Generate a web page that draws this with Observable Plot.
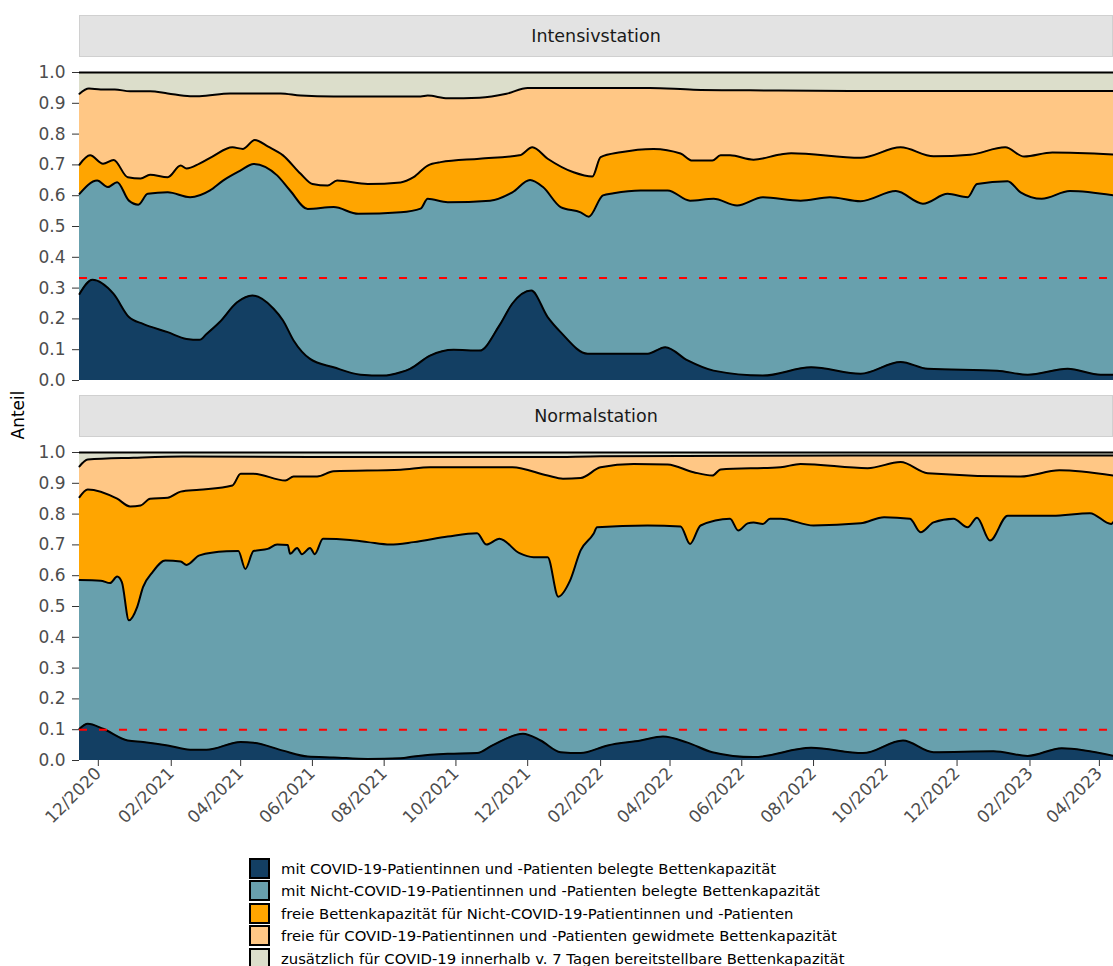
<!DOCTYPE html>
<html>
<head>
<meta charset="utf-8">
<script src="https://cdn.jsdelivr.net/npm/d3@7"></script>
<script src="https://cdn.jsdelivr.net/npm/@observablehq/plot@0.6"></script>
<style>
  body { margin: 0; background: #fff; width: 1113px; height: 966px; position: relative; overflow: hidden; font-family: "DejaVu Sans", sans-serif; }
  .strip { position: absolute; left: 79px; width: 1034px; height: 42px; background: #e3e3e3; border: 1px solid #d0d0d0; box-sizing: border-box; display: flex; align-items: center; justify-content: center; font-size: 17.5px; color: #1a1a1a; }
  .panel { position: absolute; left: 0; }
  #ylabel { position: absolute; left: 18px; top: 415px; transform: translate(-50%, -50%) rotate(-90deg); font-size: 17px; color: #000; white-space: nowrap; }
  #legend { position: absolute; left: 249px; top: 857px; }
  .row { display: flex; align-items: center; height: 22.5px; }
  .sw { width: 21px; height: 21px; border: 2px solid #000; box-sizing: border-box; margin-right: 11px; }
  .row span { font-size: 14.8px; color: #000; white-space: nowrap; }
  svg g[aria-label="y-axis tick label"], svg g[aria-label="x-axis tick label"] { fill: #4d4d4d; }
  svg g[aria-label="y-axis tick"], svg g[aria-label="x-axis tick"] { stroke: #333; }
</style>
</head>
<body>
<div class="strip" style="top:15px">Intensivstation</div>
<div id="p1" class="panel" style="top:62px"></div>
<div class="strip" style="top:395px">Normalstation</div>
<div id="p2" class="panel" style="top:442px"></div>
<div id="ylabel">Anteil</div>
<div id="legend"></div>
<script>
// ---- categories (bottom to top of the stack) ----
const categories = [
  "mit COVID-19-Patientinnen und -Patienten belegte Bettenkapazität",
  "mit Nicht-COVID-19-Patientinnen und -Patienten belegte Bettenkapazität",
  "freie Bettenkapazität für Nicht-COVID-19-Patientinnen und -Patienten",
  "freie für COVID-19-Patientinnen und -Patienten gewidmete Bettenkapazität",
  "zusätzlich für COVID-19 innerhalb v. 7 Tagen bereitstellbare Bettenkapazität"
];
const colors = ["#133f63", "#68a0ad", "#ffa500", "#ffc785", "#dcdecb"];
const panels = ["Intensivstation", "Normalstation"];

// ---- tick labels ----
const xTicks = ["2020-12-01","2021-02-01","2021-04-01","2021-06-01","2021-08-01","2021-10-01","2021-12-01",
  "2022-02-01","2022-04-01","2022-06-01","2022-08-01","2022-10-01","2022-12-01","2023-02-01","2023-04-01"];
const yTicks = [0, 0.1, 0.2, 0.3, 0.4, 0.5, 0.6, 0.7, 0.8, 0.9, 1.0];

// ---- reference lines ----
const icuThreshold = [0.333];
const wardThreshold = [0.1];

// ---- Intensivstation: cumulative share (upper edge of each layer) ----
const icuEdgeCovid = [["2020-11-15",0.281],["2020-11-26",0.327],["2020-12-14",0.281],["2020-12-27",0.206],["2021-01-08",0.184],["2021-01-29",0.157],["2021-02-14",0.135],["2021-02-25",0.132],["2021-03-03",0.151],["2021-03-14",0.189],["2021-03-29",0.254],["2021-04-11",0.276],["2021-04-29",0.233],["2021-05-07",0.195],["2021-05-16",0.13],["2021-05-30",0.07],["2021-06-19",0.043],["2021-07-12",0.019],["2021-07-31",0.016],["2021-08-15",0.027],["2021-08-23",0.038],["2021-09-09",0.081],["2021-09-29",0.1],["2021-10-21",0.097],["2021-11-07",0.179],["2021-11-18",0.25],["2021-12-04",0.292],["2021-12-18",0.206],["2021-12-29",0.157],["2022-01-21",0.087],["2022-03-13",0.087],["2022-03-28",0.108],["2022-04-16",0.065],["2022-05-08",0.032],["2022-06-19",0.016],["2022-07-30",0.043],["2022-09-10",0.022],["2022-10-14",0.06],["2022-11-06",0.038],["2023-01-04",0.032],["2023-01-30",0.019],["2023-03-05",0.038],["2023-04-02",0.019],["2023-04-13",0.019]];
const icuEdgeNonCovid = [["2020-11-15",0.606],["2020-11-30",0.649],["2020-12-09",0.628],["2020-12-17",0.644],["2020-12-27",0.584],["2021-01-04",0.571],["2021-01-12",0.606],["2021-01-29",0.611],["2021-02-17",0.595],["2021-03-06",0.617],["2021-03-17",0.649],["2021-04-01",0.682],["2021-04-12",0.703],["2021-05-02",0.666],["2021-05-13",0.617],["2021-05-28",0.557],["2021-06-19",0.563],["2021-07-10",0.541],["2021-08-15",0.546],["2021-09-01",0.558],["2021-09-07",0.59],["2021-09-24",0.579],["2021-10-30",0.584],["2021-11-18",0.611],["2021-12-03",0.651],["2021-12-14",0.628],["2021-12-29",0.563],["2022-01-15",0.546],["2022-01-22",0.532],["2022-02-03",0.601],["2022-02-12",0.608],["2022-03-07",0.617],["2022-03-30",0.617],["2022-04-18",0.584],["2022-05-08",0.59],["2022-05-28",0.568],["2022-06-19",0.595],["2022-07-21",0.584],["2022-08-15",0.595],["2022-09-10",0.582],["2022-10-10",0.615],["2022-11-02",0.574],["2022-11-23",0.606],["2022-12-10",0.595],["2022-12-18",0.638],["2023-01-13",0.647],["2023-01-24",0.611],["2023-02-11",0.59],["2023-03-07",0.615],["2023-04-13",0.601]];
const icuEdgeFreeNonCovid = [["2020-11-15",0.701],["2020-11-24",0.731],["2020-12-05",0.704],["2020-12-14",0.716],["2020-12-26",0.66],["2021-01-06",0.656],["2021-01-14",0.668],["2021-01-29",0.66],["2021-02-09",0.698],["2021-02-14",0.688],["2021-02-25",0.704],["2021-03-08",0.727],["2021-03-25",0.757],["2021-04-03",0.752],["2021-04-13",0.781],["2021-04-24",0.76],["2021-05-07",0.731],["2021-05-22",0.671],["2021-06-01",0.638],["2021-06-14",0.633],["2021-06-22",0.649],["2021-07-18",0.638],["2021-08-15",0.643],["2021-08-26",0.66],["2021-09-07",0.698],["2021-09-18",0.709],["2021-10-21",0.72],["2021-11-24",0.731],["2021-12-05",0.757],["2021-12-18",0.72],["2022-01-09",0.676],["2022-01-25",0.662],["2022-02-01",0.725],["2022-02-18",0.741],["2022-03-18",0.752],["2022-04-10",0.737],["2022-04-20",0.714],["2022-05-07",0.714],["2022-05-14",0.731],["2022-05-22",0.731],["2022-06-11",0.717],["2022-07-04",0.734],["2022-07-13",0.738],["2022-09-10",0.723],["2022-10-14",0.757],["2022-11-11",0.728],["2022-12-12",0.733],["2023-01-11",0.757],["2023-01-27",0.727],["2023-02-20",0.74],["2023-04-13",0.734]];
const icuEdgeFreeCovid = [["2020-11-15",0.931],["2020-11-23",0.948],["2020-12-03",0.945],["2020-12-15",0.945],["2020-12-28",0.939],["2021-01-14",0.939],["2021-01-29",0.932],["2021-02-17",0.923],["2021-02-25",0.923],["2021-03-23",0.932],["2021-05-05",0.932],["2021-05-22",0.925],["2021-06-19",0.922],["2021-09-01",0.922],["2021-09-07",0.925],["2021-09-24",0.916],["2021-10-21",0.918],["2021-11-13",0.931],["2021-12-01",0.95],["2022-03-15",0.95],["2022-04-21",0.944],["2022-06-08",0.942],["2022-09-01",0.94],["2023-04-13",0.94]];

// ---- Normalstation: cumulative share (upper edge of each layer) ----
const wardEdgeCovid = [["2020-11-15",0.103],["2020-11-22",0.119],["2020-12-05",0.103],["2020-12-26",0.065],["2021-01-08",0.06],["2021-01-29",0.049],["2021-02-17",0.035],["2021-03-03",0.035],["2021-04-01",0.06],["2021-04-12",0.058],["2021-05-07",0.032],["2021-05-28",0.013],["2021-06-19",0.01],["2021-07-18",0.005],["2021-08-15",0.007],["2021-08-26",0.013],["2021-09-24",0.022],["2021-10-19",0.024],["2021-11-01",0.049],["2021-11-27",0.087],["2021-12-12",0.065],["2021-12-29",0.027],["2022-01-15",0.024],["2022-02-07",0.049],["2022-03-07",0.065],["2022-03-26",0.078],["2022-04-16",0.058],["2022-05-07",0.027],["2022-06-11",0.011],["2022-07-30",0.041],["2022-09-12",0.024],["2022-10-16",0.065],["2022-11-11",0.027],["2023-01-01",0.03],["2023-01-30",0.015],["2023-02-28",0.04],["2023-04-13",0.015]];
const wardEdgeNonCovid = [["2020-11-15",0.586],["2020-12-03",0.584],["2020-12-11",0.576],["2020-12-17",0.597],["2020-12-21",0.579],["2020-12-27",0.455],["2021-01-03",0.498],["2021-01-08",0.563],["2021-01-16",0.611],["2021-01-27",0.649],["2021-02-09",0.646],["2021-02-14",0.635],["2021-02-25",0.666],["2021-03-20",0.679],["2021-03-30",0.68],["2021-04-05",0.622],["2021-04-12",0.68],["2021-04-24",0.687],["2021-05-02",0.701],["2021-05-11",0.70],["2021-05-13",0.671],["2021-05-19",0.69],["2021-05-23",0.67],["2021-05-30",0.69],["2021-06-03",0.67],["2021-06-10",0.72],["2021-07-03",0.716],["2021-07-18",0.709],["2021-08-06",0.701],["2021-08-26",0.709],["2021-09-24",0.727],["2021-10-19",0.738],["2021-10-27",0.701],["2021-11-07",0.72],["2021-11-24",0.673],["2021-12-06",0.66],["2021-12-18",0.66],["2021-12-27",0.532],["2022-01-06",0.584],["2022-01-15",0.682],["2022-01-26",0.736],["2022-01-29",0.757],["2022-03-13",0.763],["2022-04-10",0.76],["2022-04-18",0.703],["2022-04-27",0.763],["2022-05-22",0.785],["2022-05-29",0.747],["2022-06-06",0.77],["2022-06-11",0.773],["2022-06-19",0.768],["2022-06-25",0.785],["2022-07-04",0.785],["2022-08-01",0.763],["2022-09-10",0.77],["2022-09-30",0.79],["2022-10-22",0.785],["2022-10-31",0.741],["2022-11-11",0.773],["2022-11-28",0.785],["2022-12-10",0.757],["2022-12-18",0.788],["2022-12-29",0.714],["2023-01-13",0.795],["2023-02-20",0.795],["2023-03-24",0.803],["2023-04-11",0.768],["2023-04-13",0.775]];
const wardEdgeFreeNonCovid = [["2020-11-15",0.855],["2020-11-22",0.88],["2020-12-17",0.85],["2020-12-28",0.825],["2021-01-06",0.828],["2021-01-14",0.85],["2021-01-29",0.853],["2021-02-09",0.873],["2021-02-25",0.879],["2021-03-25",0.893],["2021-04-01",0.931],["2021-04-12",0.931],["2021-05-09",0.909],["2021-05-16",0.922],["2021-06-05",0.922],["2021-06-19",0.939],["2021-08-15",0.944],["2021-09-09",0.952],["2021-11-18",0.952],["2021-12-18",0.925],["2021-12-31",0.915],["2022-01-15",0.917],["2022-02-01",0.952],["2022-03-01",0.963],["2022-03-30",0.961],["2022-04-21",0.936],["2022-05-07",0.925],["2022-05-14",0.945],["2022-07-04",0.952],["2022-07-21",0.963],["2022-09-16",0.949],["2022-10-14",0.969],["2022-11-06",0.933],["2023-01-24",0.922],["2023-02-26",0.942],["2023-04-13",0.925]];
const wardEdgeFreeCovid = [["2020-11-15",0.955],["2020-11-22",0.977],["2020-12-31",0.983],["2021-02-11",0.987],["2021-08-15",0.985],["2021-12-18",0.985],["2022-02-01",0.988],["2022-09-01",0.99],["2023-04-13",0.99]];

const parse = d3.utcParse("%Y-%m-%d");
const xDomain = [parse("2020-11-15"), parse("2023-04-13")];
const curve = "monotone-x";

function panel(edges, threshold, showX) {
  // edges: [covid, nonCovid, freeNonCovid, freeCovid]
  const X = d => parse(d[0]);
  const Y = d => d[1];
  const marks = [];
  // top layer (zusätzlich) between highest edge and 1
  marks.push(Plot.areaY(edges[3], {x: X, y1: Y, y2: () => 1, fill: colors[4], curve}));
  // overlay the lower layers from top to bottom
  for (let i = 3; i >= 0; i--) {
    marks.push(Plot.areaY(edges[i], {x: X, y1: () => 0, y2: Y, fill: colors[i], curve}));
  }
  for (let i = 0; i < 4; i++) {
    marks.push(Plot.lineY(edges[i], {x: X, y: Y, stroke: "#000", strokeWidth: 2, curve, strokeLinejoin: "round"}));
  }
  marks.push(Plot.ruleY([1], {stroke: "#000", strokeWidth: 2}));
  marks.push(Plot.ruleY(threshold, {stroke: "#ff0000", strokeWidth: 2, strokeDasharray: "8,12"}));
  marks.push(Plot.axisY(yTicks, {tickSize: 7, tickPadding: 7, tickFormat: d3.format(".1f"), label: null}));
  if (showX) {
    marks.push(Plot.axisX(xTicks.map(parse), {tickSize: 6, tickPadding: 4, tickRotate: -45, tickFormat: d3.utcFormat("%m/%Y"), label: null}));
  }
  const marginBottom = showX ? 95 : 8;
  return Plot.plot({
    width: 1113,
    height: 10 + 308 + marginBottom,
    marginLeft: 79, marginRight: 0, marginTop: 10, marginBottom,
    style: {fontFamily: "DejaVu Sans, sans-serif", fontSize: "17px", background: "transparent", overflow: "visible"},
    x: {type: "utc", domain: xDomain, axis: showX ? undefined : null},
    y: {domain: [0, 1]},
    marks
  });
}

document.getElementById("p1").append(panel([icuEdgeCovid, icuEdgeNonCovid, icuEdgeFreeNonCovid, icuEdgeFreeCovid], icuThreshold, false));
document.getElementById("p2").append(panel([wardEdgeCovid, wardEdgeNonCovid, wardEdgeFreeNonCovid, wardEdgeFreeCovid], wardThreshold, true));

const legend = document.getElementById("legend");
categories.forEach((c, i) => {
  const row = document.createElement("div");
  row.className = "row";
  const sw = document.createElement("div");
  sw.className = "sw";
  sw.style.background = colors[i];
  const t = document.createElement("span");
  t.textContent = c;
  row.append(sw, t);
  legend.append(row);
});
</script>
</body>
</html>
